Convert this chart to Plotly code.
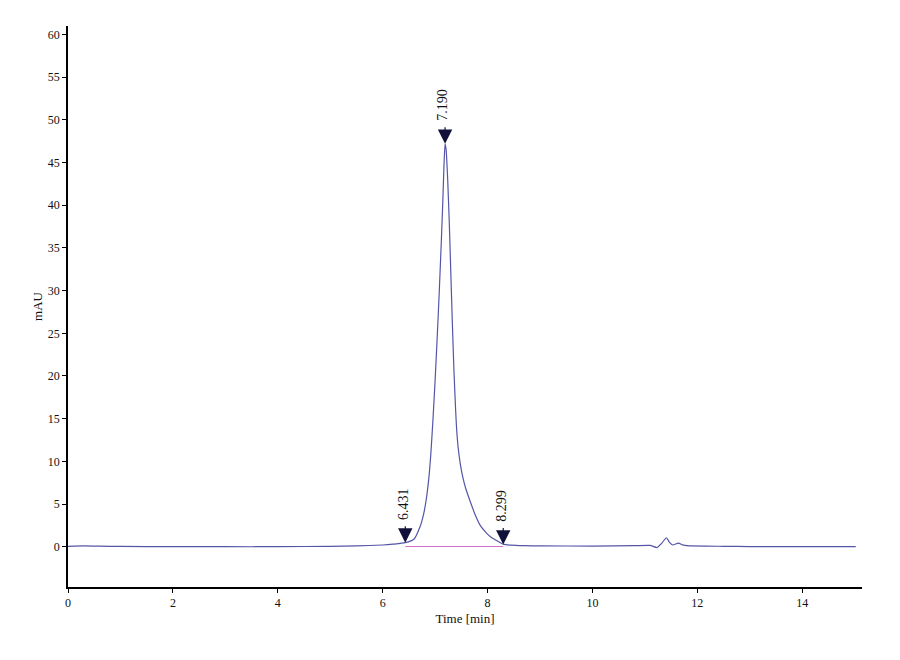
import plotly.graph_objects as go

# 色谱图数据 (时间 min, 信号 mAU)
time_min = [0.0, 0.3, 0.6, 1.0, 2.0, 3.0, 4.0, 5.0, 5.5, 6.0, 6.2, 6.431, 6.6,
            6.71, 6.78, 6.83, 6.88, 6.92, 6.96, 7.0, 7.04, 7.08, 7.12, 7.15, 7.17,
            7.19, 7.21, 7.24, 7.27, 7.3, 7.33, 7.36, 7.39, 7.41, 7.44, 7.48, 7.53,
            7.59, 7.67, 7.76, 7.86, 7.98, 8.08, 8.18, 8.299, 8.45, 8.7, 9.0, 10.0,
            10.8, 11.1, 11.23, 11.32, 11.41, 11.47, 11.53, 11.64, 11.72, 11.8,
            12.5, 13.0, 14.0, 15.02]
signal_mau = [0.05, 0.1, 0.06, 0.04, 0.0, 0.0, 0.0, 0.05, 0.1, 0.2, 0.3, 0.47, 0.9,
              2.3, 3.8, 5.5, 8.0, 11.0, 15.0, 19.5, 24.5, 30.0, 36.0, 41.0, 44.8,
              47.2, 46.5, 43.0, 38.0, 32.0, 26.0, 20.5, 16.2, 13.8, 11.6, 9.7, 8.1,
              6.7, 5.3, 3.8, 2.5, 1.6, 1.05, 0.7, 0.3, 0.18, 0.12, 0.1, 0.08,
              0.12, 0.15, -0.1, 0.4, 1.05, 0.5, 0.2, 0.42, 0.22, 0.12,
              0.05, 0.02, 0.0, 0.0]

# 峰标记
peak_times = [6.431, 7.190, 8.299]
peak_values = [0.47, 47.2, 0.25]
peak_labels = ["6.431", "7.190", "8.299"]

# 积分基线
baseline_t = [6.431, 8.299]
baseline_v = [0.02, 0.02]

font_family = "Liberation Serif"

fig = go.Figure()
fig.add_trace(go.Scatter(x=baseline_t, y=baseline_v, mode="lines",
                         line=dict(color="#d070c8", width=1), hoverinfo="skip"))
fig.add_trace(go.Scatter(x=time_min, y=signal_mau, mode="lines",
                         line=dict(color="#5555a8", width=1.2, shape="spline", smoothing=0.5)))

# 箭头和标签
for t, v, lab in zip(peak_times, peak_values, peak_labels):
    fig.add_annotation(x=t, y=v, ax=0, ay=-18, text="", showarrow=True,
                       arrowhead=2, arrowsize=2.4, arrowwidth=1.2, arrowcolor="#10103a")
    fig.add_annotation(x=t, y=v, text=lab, showarrow=False, textangle=-90,
                       yshift=39, xshift=-2,
                       font=dict(family=font_family, size=14, color="#111111"))

# 页面body有8px边距，所以尺寸略小
fig.update_layout(
    width=884, height=644,
    margin=dict(l=60, r=30, t=18, b=65),
    plot_bgcolor="white", paper_bgcolor="white",
    showlegend=False,
    font=dict(family=font_family, size=12, color="#111111"),
)
fig.update_xaxes(range=[0, 15.14], dtick=2, tick0=0, showgrid=False, zeroline=False,
                 automargin=False,
                 showline=True, linecolor="black", linewidth=2,
                 ticks="outside", ticklen=4, tickcolor="black",
                 title=dict(text="Time [min]", standoff=4,
                            font=dict(family=font_family, size=13)))
fig.update_yaxes(range=[-4.72, 61.0], dtick=5, tick0=0, showgrid=False, zeroline=False,
                 automargin=False,
                 showline=True, linecolor="black", linewidth=1.5,
                 ticks="outside", ticklen=4, tickcolor="black",
                 title=dict(text="mAU", standoff=2,
                            font=dict(family=font_family, size=13)))

fig.write_html("out.html")
